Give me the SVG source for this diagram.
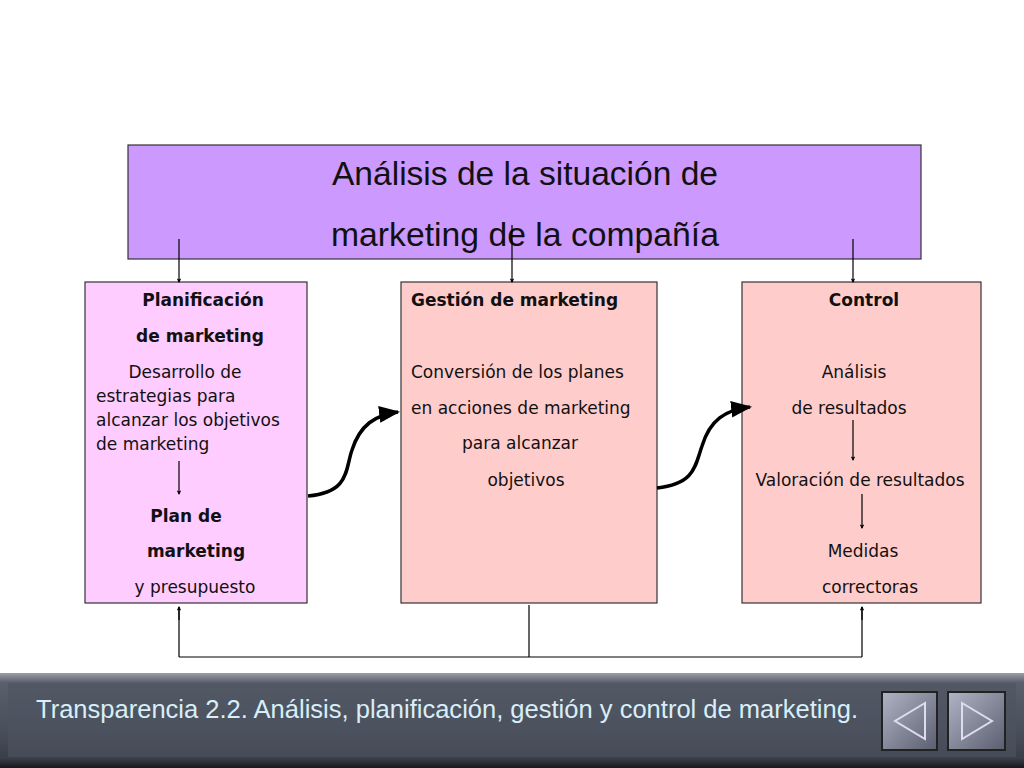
<svg xmlns="http://www.w3.org/2000/svg" width="1024" height="768" viewBox="0 0 1024 768">
<defs>
<marker id="a" viewBox="0 0 10 10" refX="9" refY="5" markerWidth="6" markerHeight="6" orient="auto"><path d="M0,1 L10,5 L0,9 z" fill="#000"/></marker>
<marker id="b" viewBox="0 0 10 10" refX="8" refY="5" markerWidth="4" markerHeight="4" orient="auto"><path d="M0,0 L10,5 L0,10 L3,5 z" fill="#000"/></marker>
<linearGradient id="bar" x1="0" y1="0" x2="0" y2="1"><stop offset="0" stop-color="#9a9ea8"/><stop offset="0.1" stop-color="#5a5f6c"/><stop offset="0.6" stop-color="#4a4f5c"/><stop offset="0.9" stop-color="#3a3e48"/><stop offset="1" stop-color="#15171c"/></linearGradient>
<linearGradient id="btn" x1="0" y1="0" x2="1" y2="1"><stop offset="0" stop-color="#b0b4c4"/><stop offset="1" stop-color="#5a5e70"/></linearGradient>
</defs>
<style>
.t{font-family:"DejaVu Sans","Noto Sans",sans-serif;font-size:17px;fill:#111}
.bd{font-weight:bold}
.box{stroke:#333;stroke-width:1.2}
.ln{fill:none;stroke:#000;stroke-width:1.2}
.cv{fill:none;stroke:#000;stroke-width:3.5}
</style>
<rect width="1024" height="768" fill="#fff"/>
<g id="top"><rect x="128" y="145" width="793" height="114" fill="#cc99ff" class="box"/>
<text class="t" x="332" y="185" textLength="386" lengthAdjust="spacingAndGlyphs" style="font-family:'Liberation Sans',sans-serif;font-size:33px">Análisis de la situación de</text>
<text class="t" x="331" y="246" textLength="388" lengthAdjust="spacingAndGlyphs" style="font-family:'Liberation Sans',sans-serif;font-size:33px">marketing de la compañía</text></g>
<g id="plan"><rect x="85" y="282" width="222" height="321" fill="#ffccff" class="box"/>
<text class="t bd" x="203" y="306" text-anchor="middle">Planificación</text>
<text class="t bd" x="200" y="342" text-anchor="middle">de  marketing</text>
<text class="t" x="185" y="378" text-anchor="middle">Desarrollo de</text>
<text class="t" x="96" y="402">estrategias para</text>
<text class="t" x="96" y="426">alcanzar los objetivos</text>
<text class="t" x="96" y="450">de marketing</text>
<text class="t bd" x="186" y="522" text-anchor="middle">Plan de</text>
<text class="t bd" x="196" y="557" text-anchor="middle">marketing</text>
<text class="t" x="195" y="593" text-anchor="middle">y presupuesto</text></g>
<g id="gest"><rect x="401" y="282" width="256" height="321" fill="#ffcccc" class="box"/>
<text class="t bd" x="411" y="306">Gestión de marketing</text>
<text class="t" x="411" y="378">Conversión de los planes</text>
<text class="t" x="411" y="414">en acciones de marketing</text>
<text class="t" x="520" y="449" text-anchor="middle">para alcanzar</text>
<text class="t" x="526" y="486" text-anchor="middle">objetivos</text></g>
<g id="ctrl"><rect x="742" y="282" width="239" height="321" fill="#ffcccc" class="box"/>
<text class="t bd" x="864" y="306" text-anchor="middle">Control</text>
<text class="t" x="854" y="378" text-anchor="middle">Análisis</text>
<text class="t" x="849" y="414" text-anchor="middle">de resultados</text>
<text class="t" x="860" y="486" text-anchor="middle">Valoración de resultados</text>
<text class="t" x="863" y="557" text-anchor="middle">Medidas</text>
<text class="t" x="870" y="593" text-anchor="middle">correctoras</text></g>
<g id="connectors">
<path class="ln" d="M179,239 V282" marker-end="url(#b)"/>
<path class="ln" d="M512,225 V282" marker-end="url(#b)"/>
<path class="ln" d="M853,239 V282" marker-end="url(#b)"/>
<path class="ln" d="M179,461 V494" marker-end="url(#b)"/>
<path class="ln" d="M853,420 V460" marker-end="url(#b)"/>
<path class="ln" d="M862,494 V528" marker-end="url(#b)"/>
<path class="ln" d="M529,605 V657 M179,657 H862 M179,657 V607 M862,657 V607" />
<path class="ln" d="M179,620 V607" marker-end="url(#b)"/>
<path class="ln" d="M862,620 V607" marker-end="url(#b)"/>
<path class="cv" d="M308,496 C350,492 345,470 352,450 C360,425 375,415 398,412" marker-end="url(#a)"/>
<path class="cv" d="M657,488 C695,484 695,466 702,446 C710,420 725,410 750,407" marker-end="url(#a)"/>
</g>
<g id="footer">
<rect x="0" y="673" width="1024" height="95" fill="url(#bar)"/>
<rect x="8" y="683" width="1008" height="74" fill="#4e5360" opacity="0.6"/>
<text x="36" y="718" textLength="822" lengthAdjust="spacingAndGlyphs" style="font-family:'Liberation Sans',sans-serif;font-size:25px;fill:#d8eef8">Transparencia 2.2. Análisis, planificación, gestión y control de marketing.</text>
<rect x="882" y="692" width="55" height="58" fill="url(#btn)" stroke="#222" stroke-width="2"/>
<rect x="948" y="692" width="57" height="58" fill="url(#btn)" stroke="#222" stroke-width="2"/>
<path d="M925,703 L895,721 L925,739 Z" fill="none" stroke="#dde" stroke-width="2"/>
<path d="M962,703 L992,721 L962,739 Z" fill="none" stroke="#dde" stroke-width="2"/>
</g>
</svg>
